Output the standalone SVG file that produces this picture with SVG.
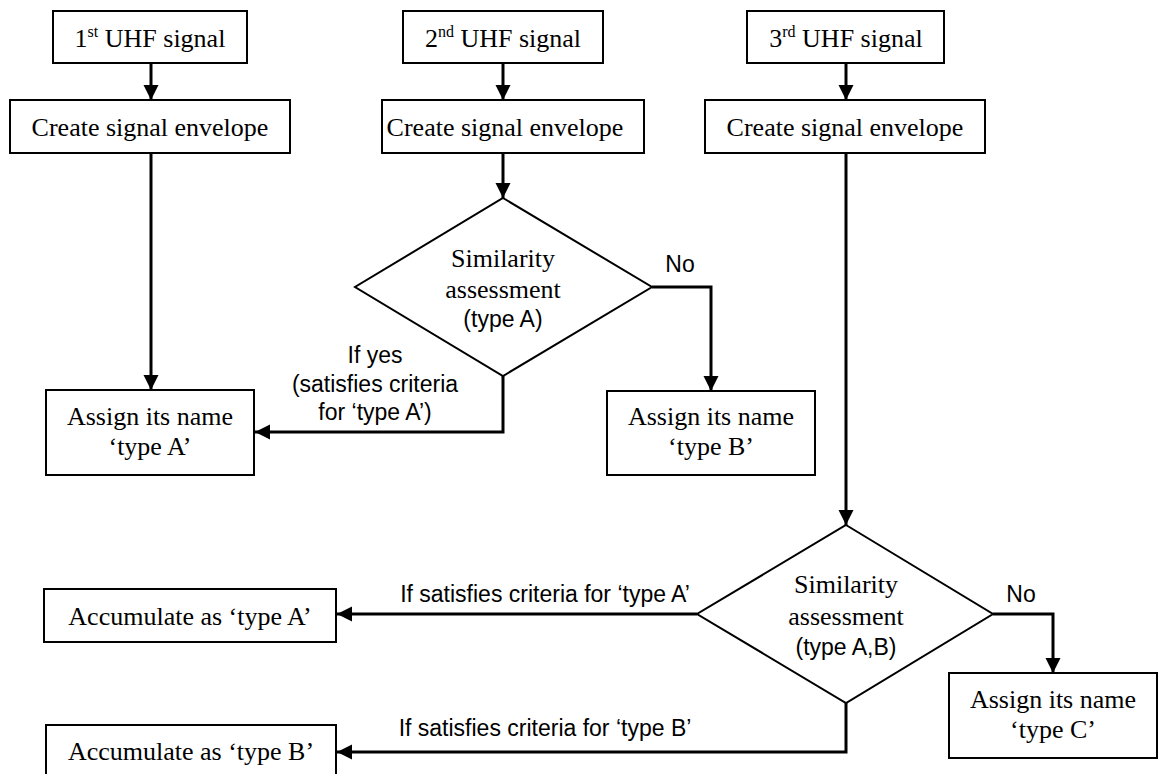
<svg xmlns="http://www.w3.org/2000/svg" width="1159" height="774" viewBox="0 0 1159 774">
<style>
.box{fill:#fff;stroke:#000;stroke-width:2}
.dia{fill:#fff;stroke:#000;stroke-width:2}
.ser{font-family:"Liberation Serif","Times New Roman",serif;font-size:26px;fill:#000;text-anchor:middle}
.san{font-family:"Liberation Sans",Arial,sans-serif;font-size:23px;fill:#000;text-anchor:middle}
.sup{font-size:16px}
.con{fill:none;stroke:#000;stroke-width:3}
</style>
<defs>
<marker id="ah" markerUnits="userSpaceOnUse" markerWidth="16" markerHeight="16" refX="15" refY="7.5" orient="auto">
<path d="M0,0 L15,7.5 L0,15 z" fill="#000"/>
</marker>
</defs>
<rect width="1159" height="774" fill="#fff"/>
<g id="connectors">
<line class="con" x1="151" y1="63" x2="151" y2="100" marker-end="url(#ah)"/>
<line class="con" x1="503" y1="63" x2="503" y2="100" marker-end="url(#ah)"/>
<line class="con" x1="846" y1="63" x2="846" y2="100" marker-end="url(#ah)"/>
<line class="con" x1="151" y1="153" x2="151" y2="390" marker-end="url(#ah)"/>
<line class="con" x1="503" y1="153" x2="503" y2="198" marker-end="url(#ah)"/>
<polyline class="con" points="503,376 503,432 255,432" marker-end="url(#ah)"/>
<polyline class="con" points="652,287 711,287 711,391" marker-end="url(#ah)"/>
<line class="con" x1="846" y1="153" x2="846" y2="525" marker-end="url(#ah)"/>
<line class="con" x1="697" y1="614" x2="337" y2="614" marker-end="url(#ah)"/>
<polyline class="con" points="846,703 846,752 337,752" marker-end="url(#ah)"/>
<polyline class="con" points="993,614 1053,614 1053,673" marker-end="url(#ah)"/>
<text class="san" x="375" y="363">If yes</text>
<text class="san" x="375" y="392">(satisfies criteria</text>
<text class="san" x="375" y="420">for ‘type A’)</text>
<text class="san" x="680" y="272">No</text>
<text class="san" x="545" y="602">If satisfies criteria for ‘type A’</text>
<text class="san" x="545" y="736">If satisfies criteria for ‘type B’</text>
<text class="san" x="1021" y="602">No</text>
</g>
<g id="uhf1">
<rect class="box" x="53" y="11" width="194" height="52"/>
<text class="ser" x="150" y="47">1<tspan class="sup" dy="-10">st</tspan><tspan dy="10"> UHF signal</tspan></text>
</g>
<g id="uhf2">
<rect class="box" x="403" y="11" width="200" height="52"/>
<text class="ser" x="503" y="47">2<tspan class="sup" dy="-10">nd</tspan><tspan dy="10"> UHF signal</tspan></text>
</g>
<g id="uhf3">
<rect class="box" x="747" y="11" width="197" height="52"/>
<text class="ser" x="846" y="47">3<tspan class="sup" dy="-10">rd</tspan><tspan dy="10"> UHF signal</tspan></text>
</g>
<g id="env1">
<rect class="box" x="10" y="100" width="280" height="53"/>
<text class="ser" x="150" y="136">Create signal envelope</text>
</g>
<g id="env2">
<rect class="box" x="382" y="100" width="262" height="53"/>
<text class="ser" x="505" y="136">Create signal envelope</text>
</g>
<g id="env3">
<rect class="box" x="705" y="100" width="280" height="53"/>
<text class="ser" x="845" y="136">Create signal envelope</text>
</g>
<g id="sim1">
<polygon class="dia" points="503,198 652,287 503,376 355,287"/>
<text class="ser" x="503" y="267">Similarity</text>
<text class="ser" x="503" y="298">assessment</text>
<text class="san" x="503" y="327">(type A)</text>
</g>
<g id="assignA">
<rect class="box" x="46" y="390" width="208" height="85"/>
<text class="ser" x="150" y="425">Assign its name</text>
<text class="ser" x="150" y="455">‘type A’</text>
</g>
<g id="assignB">
<rect class="box" x="607" y="391" width="208" height="84"/>
<text class="ser" x="711" y="425">Assign its name</text>
<text class="ser" x="711" y="455">‘type B’</text>
</g>
<g id="sim2">
<polygon class="dia" points="846,525 993,614 846,703 697,614"/>
<text class="ser" x="846" y="593">Similarity</text>
<text class="ser" x="846" y="625">assessment</text>
<text class="san" x="846" y="655">(type A,B)</text>
</g>
<g id="assignC">
<rect class="box" x="949" y="673" width="208" height="85"/>
<text class="ser" x="1053" y="708">Assign its name</text>
<text class="ser" x="1053" y="738">‘type C’</text>
</g>
<g id="accA">
<rect class="box" x="44" y="589" width="292" height="53"/>
<text class="ser" x="190" y="625">Accumulate as ‘type A’</text>
</g>
<g id="accB">
<rect class="box" x="46" y="725" width="290" height="60"/>
<text class="ser" x="191" y="760">Accumulate as ‘type B’</text>
</g>
</svg>
